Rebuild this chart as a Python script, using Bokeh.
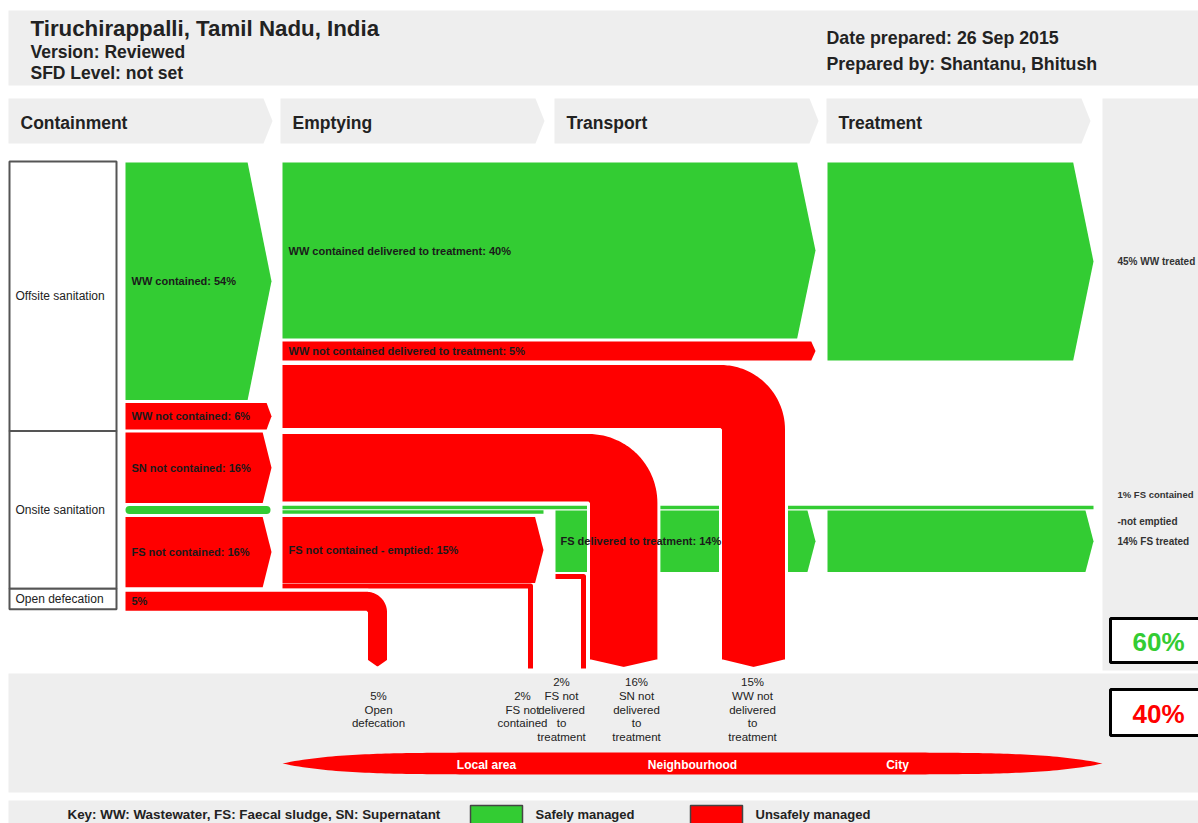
import numpy as np
from bokeh.plotting import figure
from bokeh.models import Range1d
from bokeh.core.properties import value
from bokeh.embed import file_html
from bokeh.resources import INLINE

# ---------------- data ----------------
city = "Tiruchirappalli, Tamil Nadu, India"
version = "Version: Reviewed"
sfd_level = "SFD Level: not set"
date_prepared = "Date prepared: 26 Sep 2015"
prepared_by = "Prepared by: Shantanu, Bhitush"
stages = ["Containment", "Emptying", "Transport", "Treatment"]
system_types = ["Offsite sanitation", "Onsite sanitation", "Open defecation"]

# containment stage (percent of population)
cont_pct = [54, 6, 16, 1, 16, 5]
cont_safe = [True, False, False, True, False, False]
cont_labels = ["WW contained: 54%", "WW not contained: 6%", "SN not contained: 16%",
               "", "FS not contained: 16%", "5%"]

# emptying / transport / treatment stage
ww_delivered_pct = 40
ww_nc_delivered_pct = 5
ww_not_delivered_pct = 15
sn_not_delivered_pct = 16
fs_cont_not_emptied_pct = 1
fs_emptied_pct = 15
fs_not_emptied_pct = 2
fs_delivered_pct = 14
fs_not_delivered_pct = 2
ww_treated_pct = 45
fs_treated_pct = 14

flow_labels = {
    "ww_delivered": "WW contained delivered to treatment: 40%",
    "ww_nc_delivered": "WW not contained delivered to treatment: 5%",
    "fs_emptied": "FS not contained - emptied: 15%",
    "fs_delivered": "FS delivered to treatment: 14%",
}
right_labels = ["45% WW treated", "1% FS contained", "-not emptied", "14% FS treated"]

outcome_pct = [5, 2, 2, 16, 15]
outcome_text = [["5%", "Open", "defecation"],
                ["2%", "FS not", "contained"],
                ["2%", "FS not", "delivered", "to", "treatment"],
                ["16%", "SN not", "delivered", "to", "treatment"],
                ["15%", "WW not", "delivered", "to", "treatment"]]
areas = ["Local area", "Neighbourhood", "City"]
safe_total = 60
unsafe_total = 40
key_text = "Key: WW: Wastewater, FS: Faecal sludge, SN: Supernatant"
legend_labels = ["Safely managed", "Unsafely managed"]

# ---------------- style / layout ----------------
GREEN = "#33CC33"
RED = "#FF0000"
GREY = "#EEEEEE"
TXT = "#222222"
FONT = value("Liberation Sans")
K = 4.4      # px per percent
G = 3.0      # gap between bands
Y0 = 162.0

p = figure(width=1198, height=823, x_range=Range1d(0, 1198), y_range=Range1d(823, 0),
           output_backend="svg", toolbar_location=None, min_border=0,
           x_axis_type=None, y_axis_type=None)
p.grid.visible = False
p.outline_line_color = None
p.background_fill_color = "white"
p.border_fill_color = "white"


def txt(x, y, t, size, bold=False, color=TXT, align="left", baseline="middle", font=FONT):
    p.text(x=x, y=y, text=t, text_font=font, text_font_size=size,
           text_font_style="bold" if bold else "normal", text_color=color,
           text_align=align, text_baseline=baseline)


def arrow(x0, xtip, top, bot, depth):
    mid = (top + bot) / 2
    return [x0, xtip - depth, xtip, xtip - depth, x0], [top, top, mid, bot, bot]


def depth_of(h):
    return 0.09 * h + 2.5


def bend(x0, top, bot, xv, width, yend, tip):
    xo = xv + width
    R = width
    t = np.linspace(0, np.pi / 2, 30)
    cx, cy = xo - R, top + R
    ax = list(cx + R * np.sin(t))
    ay = list(cy - R * np.cos(t))
    xs = [x0] + ax + [xo, xv + width / 2, xv, xv, x0]
    ys = [top] + ay + [yend - tip, yend, yend - tip, bot, bot]
    return xs, ys


# ---------------- backgrounds ----------------
p.quad(left=[8, 1102, 8, 8], right=[1205, 1205, 1205, 1205], top=[10, 98, 673, 800],
       bottom=[85, 670, 792, 830], fill_color=GREY, line_color=None)

txt([30], [28], [city], "22.3px", bold=True)
txt([30, 30], [51, 72], [version, sfd_level], "17.5px", bold=True)
txt([826, 826], [37, 63], [date_prepared, prepared_by], "17.8px", bold=True)

chev_x = [8, 280, 554, 826]
cxs, cys = [], []
for s in chev_x:
    xs, ys = arrow(s, s + 264, 98, 143, 9)
    cxs.append(xs); cys.append(ys)
p.patches(xs=cxs, ys=cys, fill_color=GREY, line_color=None)
txt([s + 12 for s in chev_x], [122] * 4, stages, "17.5px", bold=True)

# ---------------- containment ----------------
thick = [max(v * K, 8) for v in cont_pct]
tops = []
y = Y0
for t in thick:
    tops.append(y)
    y += t + G
bots = [tp + t for tp, t in zip(tops, thick)]

# system type boxes
box_top = [tops[0] - 1, tops[2] - 1.5, tops[5] - 1.5]
box_bot = [tops[2] - 1.5, tops[5] - 1.5, bots[5] - 3]
p.quad(left=9, right=116, top=box_top, bottom=box_bot, fill_color="white",
       line_color="#555555", line_width=2)
txt([15] * 3, [(a + b) / 2 for a, b in zip(box_top, box_bot)], system_types, "12px")

CX0, CTIP = 125, 271
pxs, pys, pcol = [], [], []
for i in [0, 1, 2, 4]:
    xs, ys = arrow(CX0, CTIP, tops[i], bots[i], depth_of(thick[i]))
    pxs.append(xs); pys.append(ys); pcol.append(GREEN if cont_safe[i] else RED)
p.patches(xs=pxs, ys=pys, fill_color=pcol, line_color=None)
# FS contained (1%) thin rounded bar
ym = (tops[3] + bots[3]) / 2
p.line(x=[129, 266], y=[ym, ym], line_width=thick[3], line_color=GREEN, line_cap="round")

# ---------------- emptying / transport ----------------
EX0, ETIP = 282, 815
e40_top, e40_bot = Y0, Y0 + ww_delivered_pct * K
e15_bot = bots[1]
e15_top = e15_bot - ww_not_delivered_pct * K
e5_top, e5_bot = e40_bot + G, e15_top - G
sn_top, sn_bot = tops[2], tops[2] + sn_not_delivered_pct * K
line1_y = tops[3] + 1.5
line2_y = tops[3] + 6.0
fse_top = tops[4]
fse_bot = fse_top + fs_emptied_pct * K
fsne_y = fse_bot + 3.0
fsd_top = line2_y - 1.5
fsd_bot = fsd_top + fs_delivered_pct * K
fsnd_y = fsd_bot + 4.5

# green thin lines (FS contained - not emptied)
p.line(x=[EX0, 1093], y=[line1_y, line1_y], line_width=3.5, line_color=GREEN)
p.line(x=[EX0, 543], y=[line2_y, line2_y], line_width=3.5, line_color=GREEN)

ex, ey, ec = [], [], []
for (x0, xt, t0, b0, c) in [(EX0, ETIP, e40_top, e40_bot, GREEN),
                             (EX0, ETIP, e5_top, e5_bot, RED),
                             (EX0, 543, fse_top, fse_bot, RED),
                             (555, ETIP, fsd_top, fsd_bot, GREEN),
                             (827, 1093, Y0, Y0 + ww_treated_pct * K, GREEN),
                             (827, 1093, fsd_top, fsd_top + fs_treated_pct * K, GREEN)]:
    xs, ys = arrow(x0, xt, t0, b0, depth_of(b0 - t0))
    ex.append(xs); ey.append(ys); ec.append(c)
p.patches(xs=ex, ys=ey, fill_color=ec, line_color=None)

# thin red lines (2% flows)
YEND = 668
p.multi_line(xs=[[EX0, 530, 530], [555, 583, 583]],
             ys=[[fsne_y, fsne_y, YEND], [fsnd_y, fsnd_y, YEND]],
             line_width=5, line_color=RED, line_join="round")

# red bends going to the bottom
bxs, bys = [], []
for (x0, t0, b0, xv) in [(CX0 - 1.5, tops[5], bots[5], 366),
                          (EX0 - 1.5, sn_top, sn_bot, 588),
                          (EX0 - 1.5, e15_top, e15_bot, 720)]:
    w = b0 - t0
    xs, ys = bend(x0, t0, b0, xv, w, YEND, min(8, w * 0.35))
    bxs.append(xs); bys.append(ys)
p.patches(xs=bxs, ys=bys, fill_color=RED, line_color="white", line_width=3)

# flow labels
lx = [131, 131, 131, 131, 131, 288, 288, 288, 560]
ly = [(tops[i] + bots[i]) / 2 for i in [0, 1, 2, 4, 5]] + [
    (e40_top + e40_bot) / 2, (e5_top + e5_bot) / 2, (fse_top + fse_bot) / 2, (fsd_top + fsd_bot) / 2]
lt = [cont_labels[i] for i in [0, 1, 2, 4, 5]] + [
    flow_labels["ww_delivered"], flow_labels["ww_nc_delivered"], flow_labels["fs_emptied"],
    flow_labels["fs_delivered"]]
txt(lx, ly, lt, "11px", bold=True, color="#1a1a1a")

# right panel labels
rl_y = [Y0 + ww_treated_pct * K / 2, line1_y - 13, line1_y + 14, (fsd_top + fsd_bot) / 2]
txt([1117, 1117, 1117], [rl_y[0], rl_y[2], rl_y[3]],
    [right_labels[0], right_labels[2], right_labels[3]], "10px", bold=True, color="#333333")
txt([1117], [rl_y[1]], [right_labels[1]], "9.5px", bold=True, color="#333333")

# summary boxes
p.quad(left=1110, right=1215, top=[618, 689], bottom=[662, 735], fill_color="white",
       line_color="black", line_width=3)
txt([1158], [641], [f"{safe_total}%"], "26px", bold=True, color=GREEN, align="center")
txt([1158], [713], [f"{unsafe_total}%"], "26px", bold=True, color=RED, align="center")

# outcome labels
out_x = [378, 522, 561, 636, 752]
ox, oy, ot = [], [], []
for cx, lines in zip(out_x, outcome_text):
    n = len(lines)
    for i, s in enumerate(lines):
        ox.append(cx); oy.append(709 + (i - (n - 1) / 2) * 13.7); ot.append(s)
txt(ox, oy, ot, "11.5px", align="center")

# lens (area of impact)
L0, L1, LY, LH = 282, 1102, 763, 11
u = np.linspace(-1, 1, 200)
hx = (L0 + L1) / 2 + u * (L1 - L0) / 2
hh = LH * (1 - np.abs(u) ** 8)
p.patch(x=list(hx) + list(hx[::-1]), y=list(LY - hh) + list((LY + hh)[::-1]),
        fill_color=RED, line_color=None)
txt([486, 692, 897], [LY + 1] * 3, areas, "12px", bold=True, color="white", align="center")

# key / legend
txt([67], [814], [key_text], "13.4px", bold=True)
p.quad(left=[470, 690], right=[522, 742], top=805, bottom=826, fill_color=[GREEN, RED],
       line_color="#444444", line_width=1.5)
txt([535, 755], [814, 814], legend_labels, "13px", bold=True)

open("out.html", "w").write(file_html(p, INLINE))
